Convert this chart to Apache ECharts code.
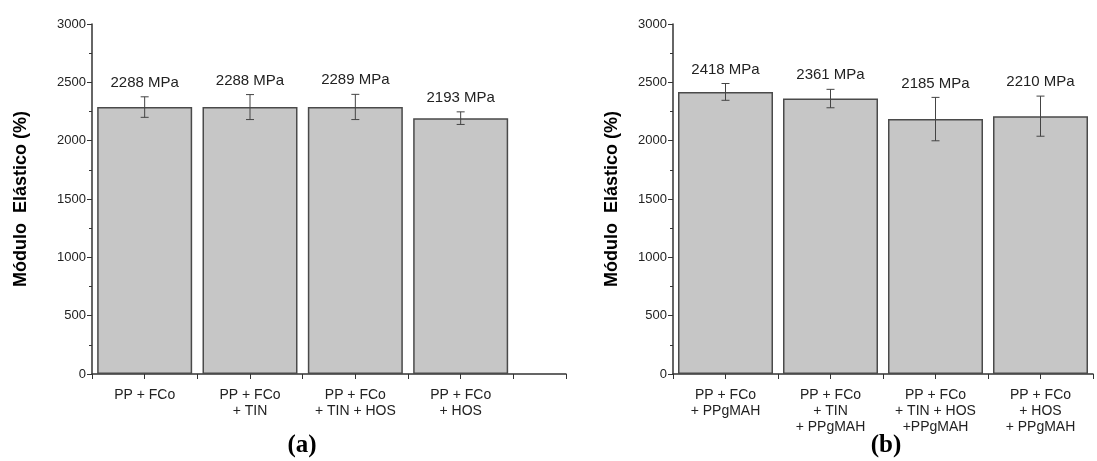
<!DOCTYPE html>
<html>
<head>
<meta charset="utf-8">
<script src="https://cdn.jsdelivr.net/npm/echarts@6/dist/echarts.min.js"></script>
<style>
  html, body { margin: 0; padding: 0; background: #fff; }
  #chart { width: 1097px; height: 461px; }
</style>
</head>
<body>
<div id="chart"></div>
<script>
// painel (a)
const categoriesA = ['PP + FCo', 'PP + FCo\n+ TIN', 'PP + FCo\n+ TIN + HOS', 'PP + FCo\n+ HOS'];
const valuesA = [2288, 2288, 2289, 2193];
const errorsA = [88, 107, 108, 54];
// painel (b)
const categoriesB = ['PP + FCo\n+ PPgMAH', 'PP + FCo\n+ TIN\n+ PPgMAH', 'PP + FCo\n+ TIN + HOS\n+PPgMAH', 'PP + FCo\n+ HOS\n+ PPgMAH'];
const valuesB = [2418, 2361, 2185, 2210];
const errorsB = [72, 79, 186, 172];
const yTicks = [0, 500, 1000, 1500, 2000, 2500, 3000];

const font = 'Liberation Sans, Arial, sans-serif';
const axisColor = '#333';

function xAxisFor(cats, gridIndex, max) {
  return {
    type: 'value',
    gridIndex: gridIndex,
    min: 0.5,
    max: max,
    interval: 0.5,
    axisLine: { onZero: false, lineStyle: { color: axisColor, width: 1.5 } },
    axisTick: { show: true, length: 5, lineStyle: { color: axisColor } },
    splitLine: { show: false },
    axisLabel: {
      margin: 13,
      fontFamily: font,
      fontSize: 14,
      lineHeight: 16,
      color: '#222',
      verticalAlign: 'top',
      formatter: function (v) {
        return Number.isInteger(v) && cats[v - 1] ? cats[v - 1] : '';
      }
    }
  };
}

function yAxisFor(gridIndex, nameGap) {
  return {
    type: 'value',
    gridIndex: gridIndex,
    min: yTicks[0],
    max: yTicks[yTicks.length - 1],
    interval: yTicks[1] - yTicks[0],
    name: 'Módulo  Elástico (%)',
    nameLocation: 'middle',
    nameGap: nameGap,
    nameTextStyle: { fontFamily: font, fontSize: 18, fontWeight: 'bold', color: '#000' },
    axisLine: { show: true, lineStyle: { color: axisColor, width: 1.5 } },
    axisTick: { show: true, length: 5, lineStyle: { color: axisColor } },
    minorTick: { show: true, splitNumber: 2, length: 3, lineStyle: { color: axisColor } },
    splitLine: { show: false },
    axisLabel: {
      fontFamily: font, fontSize: 13, color: '#222', margin: 6,
      formatter: function (v) { return String(v); }
    }
  };
}

function barSeries(values, idx) {
  return {
    type: 'bar',
    xAxisIndex: idx,
    yAxisIndex: idx,
    barWidth: 95,
    data: values.map((v, i) => [i + 1, v]),
    itemStyle: { color: '#c6c6c6', borderColor: '#4a4a4a', borderWidth: 1.5 },
    silent: true
  };
}

function errorSeries(values, errors, idx) {
  return {
    type: 'custom',
    xAxisIndex: idx,
    yAxisIndex: idx,
    z: 5,
    data: values.map((v, i) => [i + 1, v, errors[i]]),
    renderItem: function (params, api) {
      const x = api.value(0);
      const v = api.value(1);
      const e = api.value(2);
      const top = api.coord([x, v + e]);
      const bot = api.coord([x, v - e]);
      const cap = 4;
      const style = { stroke: '#444', lineWidth: 1 };
      return {
        type: 'group',
        children: [
          { type: 'line', shape: { x1: top[0], y1: top[1], x2: bot[0], y2: bot[1] }, style: style },
          { type: 'line', shape: { x1: top[0] - cap, y1: top[1], x2: top[0] + cap, y2: top[1] }, style: style },
          { type: 'line', shape: { x1: bot[0] - cap, y1: bot[1], x2: bot[0] + cap, y2: bot[1] }, style: style },
          {
            type: 'text',
            x: top[0],
            y: top[1] - 14,
            style: {
              text: v + ' MPa',
              fontFamily: font,
              fontSize: 15,
              fill: '#222',
              align: 'center',
              verticalAlign: 'middle'
            }
          }
        ]
      };
    }
  };
}

const chart = echarts.init(document.getElementById('chart'));
chart.setOption({
  backgroundColor: '#fff',
  animation: false,
  title: [
    { text: '(a)', left: 297, top: 428, textAlign: 'center',
      textStyle: { fontFamily: 'Liberation Serif, Times New Roman, serif', fontSize: 25, fontWeight: 'bold', color: '#000' } },
    { text: '(b)', left: 881, top: 428, textAlign: 'center',
      textStyle: { fontFamily: 'Liberation Serif, Times New Roman, serif', fontSize: 25, fontWeight: 'bold', color: '#000' } }
  ],
  grid: [
    { left: 92, top: 24, width: 474, height: 350 },
    { left: 673, top: 24, width: 420, height: 350 }
  ],
  xAxis: [xAxisFor(categoriesA, 0, 5), xAxisFor(categoriesB, 1, 4.5)],
  yAxis: [yAxisFor(0, 62), yAxisFor(1, 52)],
  series: [
    barSeries(valuesA, 0),
    errorSeries(valuesA, errorsA, 0),
    barSeries(valuesB, 1),
    errorSeries(valuesB, errorsB, 1)
  ]
});
</script>
</body>
</html>
